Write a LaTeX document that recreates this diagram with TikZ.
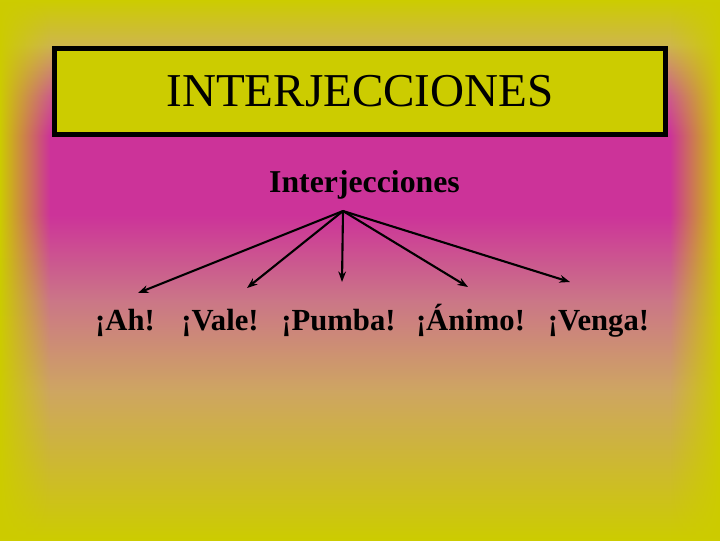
\documentclass[tikz,border=0pt]{standalone}
\usepackage{fontspec}
\setmainfont{Liberation Serif}
\usepackage{tikz}
\usetikzlibrary{arrows.meta,fadings,calc}
\definecolor{amarillo}{RGB}{204,204,0}
\definecolor{ocre}{RGB}{206,182,75}
\definecolor{rosa}{RGB}{205,95,135}
\definecolor{magenta}{RGB}{204,51,153}
\definecolor{malva}{RGB}{203,118,135}
\definecolor{tostado}{RGB}{206,165,98}

\begin{document}
\begin{tikzpicture}[x=0.025cm,y=-0.025cm,
                palabra/.style={font=\bfseries\fontsize{21.8}{26}\selectfont,inner sep=0pt,anchor=base},
                flecha/.style={-{Stealth[length=7.5pt,width=5.5pt]},line width=1.5pt}]
                \useasboundingbox (0,0) rectangle (720,540);
                \shade[top color=amarillo,bottom color=ocre]
                    (0,0) rectangle (720,45.5);
                \shade[top color=ocre,bottom color=rosa]
                    (0,45) rectangle (720,95.5);
                \shade[top color=rosa,bottom color=magenta]
                    (0,95) rectangle (720,135.5);
                \fill[magenta]
                    (0,135) rectangle (720,215.5);
                \shade[top color=magenta,bottom color=malva]
                    (0,215) rectangle (720,300.5);
                \shade[top color=malva,bottom color=tostado]
                    (0,300) rectangle (720,390.5);
                \shade[top color=tostado,bottom color=amarillo]
                    (0,390) rectangle (720,540);
                \fill[amarillo,path fading=east]
                    (0,0) rectangle (50,540);
                \fill[amarillo,path fading=west]
                    (670,0) rectangle (720,540);
                \node[draw,line width=3.5pt,fill=amarillo,minimum width=15.275cm,minimum height=2.15cm,
                    font=\fontsize{33.5}{40}\selectfont]
                    (titulo) at (360,91.5) {INTERJECCIONES};
                \node[palabra,font=\bfseries\fontsize{22.6}{27}\selectfont]
                    (raiz) at (364.5,192) {Interjecciones};
                \coordinate (centro) at ($(raiz.base)+(-21.5,19)$);
                \node[palabra] (ah) at (125,330) {¡Ah!};
                \node[palabra] (vale) at (220,330) {¡Vale!};
                \node[palabra] (pumba) at (338.5,330) {¡Pumba!};
                \node[palabra] (animo) at (470.5,330) {¡Ánimo!};
                \node[palabra] (venga) at (598.5,330) {¡Venga!};
                \draw[flecha]
                    (centro) -- ($(ah.base)+(13,-37)$);
                \draw[flecha]
                    (centro) -- ($(vale.base)+(27,-42)$);
                \draw[flecha]
                    (centro) -- ($(pumba.base)+(3.5,-48)$);
                \draw[flecha]
                    (centro) -- ($(animo.base)+(-2.5,-43)$);
                \draw[flecha]
                    (centro) -- ($(venga.base)+(-28.5,-48)$);
            \end{tikzpicture}
\end{document}
